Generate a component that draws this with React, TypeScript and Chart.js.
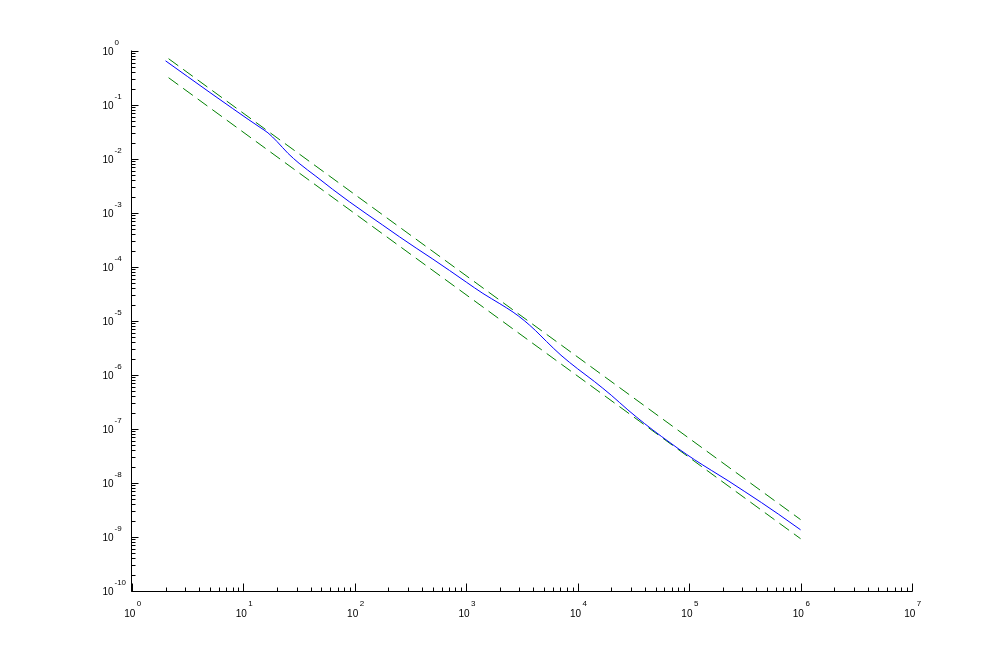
import React, { useEffect, useRef } from "react";
import { Chart, registerables } from "chart.js";

Chart.register(...registerables);

// Blue curve
const blueX = [
  2, 3.16, 5.01, 7.94, 11.2, 14.1, 16.6, 20.0, 25.1, 31.6, 44.7, 63.1, 89.1, 126, 178, 251, 355, 501,
  708, 1000, 1410, 2000, 2630, 3310, 4170, 5250, 7080, 10000, 14100, 20000, 28200, 39800, 56200,
  79400, 112000, 158000, 224000, 316000, 447000, 631000, 1000000,
];
const blueY = [
  0.658, 0.335, 0.17, 0.0871, 0.0531, 0.0385, 0.0305, 0.0211, 0.01274, 0.00832, 0.00479, 0.00275,
  0.00162, 9.77e-4, 5.96e-4, 3.63e-4, 2.24e-4, 1.4e-4, 8.61e-5, 5.25e-5, 3.24e-5, 2.09e-5, 1.46e-5,
  1.02e-5, 6.68e-6, 4.17e-6, 2.32e-6, 1.3e-6, 7.59e-7, 4.22e-7, 2.26e-7, 1.26e-7, 7.33e-8, 4.37e-8,
  2.69e-8, 1.72e-8, 1.1e-8, 6.92e-9, 4.32e-9, 2.66e-9, 1.36e-9,
];

// Green dashed bounds
const boundX = [2.13, 1000000];
const upperY = [0.72, 2.1e-9];
const lowerY = [0.32, 9.3e-10];

// Axis decades
const xExponents = [0, 1, 2, 3, 4, 5, 6, 7];
const yExponents = [0, -1, -2, -3, -4, -5, -6, -7, -8, -9, -10];
const minorMultipliers = [2, 3, 4, 5, 6, 7, 8, 9];

const FONT_MAIN = "10px 'Liberation Sans', Arial, sans-serif";
const FONT_EXP = "8px 'Liberation Sans', Arial, sans-serif";

const axesPlugin = {
  id: "matlabAxes",
  afterDraw(chart: any) {
    const ctx = chart.ctx as CanvasRenderingContext2D;
    const xs = chart.scales.x;
    const ys = chart.scales.y;
    const area = chart.chartArea;
    const ax = Math.round(area.left) - 0.5;
    const ay = Math.round(area.bottom) + 0.5;
    ctx.save();
    ctx.strokeStyle = "#000";
    ctx.lineWidth = 1;
    ctx.beginPath();
    ctx.moveTo(ax, Math.round(area.top) - 0.5);
    ctx.lineTo(ax, ay);
    ctx.lineTo(Math.round(area.right) + 0.5, ay);
    ctx.stroke();

    // y ticks
    ctx.beginPath();
    for (const e of yExponents) {
      const py = Math.round(ys.getPixelForValue(Math.pow(10, e))) + 0.5;
      ctx.moveTo(ax, py);
      ctx.lineTo(ax + 7, py);
      if (e > yExponents[yExponents.length - 1]) {
        for (const m of minorMultipliers) {
          const v = m * Math.pow(10, e - 1);
          const p = Math.round(ys.getPixelForValue(v)) + 0.5;
          ctx.moveTo(ax, p);
          ctx.lineTo(ax + 4, p);
        }
      }
    }
    // x ticks
    for (const e of xExponents) {
      const px = Math.round(xs.getPixelForValue(Math.pow(10, e))) + 0.5;
      ctx.moveTo(px, ay);
      ctx.lineTo(px, ay - 8);
      if (e < xExponents[xExponents.length - 1]) {
        for (const m of minorMultipliers) {
          const v = m * Math.pow(10, e);
          const p = Math.round(xs.getPixelForValue(v)) + 0.5;
          ctx.moveTo(p, ay);
          ctx.lineTo(p, ay - 4);
        }
      }
    }
    ctx.stroke();

    ctx.fillStyle = "#000";
    ctx.textBaseline = "middle";
    // y labels
    for (const e of yExponents) {
      const py = ys.getPixelForValue(Math.pow(10, e));
      ctx.font = FONT_MAIN;
      ctx.textAlign = "right";
      ctx.fillText("10", ax - 18, py + 1.5);
      ctx.font = FONT_EXP;
      ctx.textAlign = "left";
      ctx.fillText(String(e), ax - 17, py - 8.5);
    }
    // x labels
    for (const e of xExponents) {
      const px = xs.getPixelForValue(Math.pow(10, e));
      ctx.font = FONT_MAIN;
      const w10 = ctx.measureText("10").width;
      ctx.font = FONT_EXP;
      const wE = ctx.measureText(String(e)).width;
      const start = px - (w10 + 1 + wE) / 2 + 0.5;
      ctx.font = FONT_MAIN;
      ctx.textAlign = "left";
      ctx.fillText("10", start, ay + 23);
      ctx.font = FONT_EXP;
      ctx.fillText(String(e), start + w10 + 1.5, ay + 12);
    }
    ctx.restore();
  },
};

export default function App() {
  const canvasRef = useRef<HTMLCanvasElement | null>(null);

  useEffect(() => {
    if (!canvasRef.current) return;
    const toPts = (xs: number[], ys: number[]) => xs.map((x, i) => ({ x, y: ys[i] }));
    const chart = new Chart(canvasRef.current, {
      type: "scatter",
      data: {
        datasets: [
          {
            data: toPts(blueX, blueY),
            showLine: true,
            borderColor: "#0000ff",
            borderWidth: 1,
            pointRadius: 0,
            cubicInterpolationMode: "monotone",
            fill: false,
          },
          {
            data: toPts(boundX, upperY),
            showLine: true,
            borderColor: "#008000",
            borderWidth: 1,
            borderDash: [12, 6],
            pointRadius: 0,
            fill: false,
          },
          {
            data: toPts(boundX, lowerY),
            showLine: true,
            borderColor: "#008000",
            borderWidth: 1,
            borderDash: [12, 6],
            pointRadius: 0,
            fill: false,
          },
        ],
      },
      options: {
        animation: false,
        responsive: false,
        maintainAspectRatio: false,
        layout: { padding: { left: 132, top: 51, right: 96, bottom: 73 } },
        plugins: { legend: { display: false }, tooltip: { enabled: false } },
        scales: {
          x: { type: "logarithmic", min: 1, max: 1e7, display: false },
          y: { type: "logarithmic", min: 1e-10, max: 1, display: false },
        },
      },
      plugins: [axesPlugin],
    });
    return () => chart.destroy();
  }, []);

  return (
    <div style={{ position: "fixed", left: 0, top: 0, width: 1008, height: 664, background: "#fff" }}>
      <canvas ref={canvasRef} width={1008} height={664} style={{ width: 1008, height: 664 }} />
    </div>
  );
}
